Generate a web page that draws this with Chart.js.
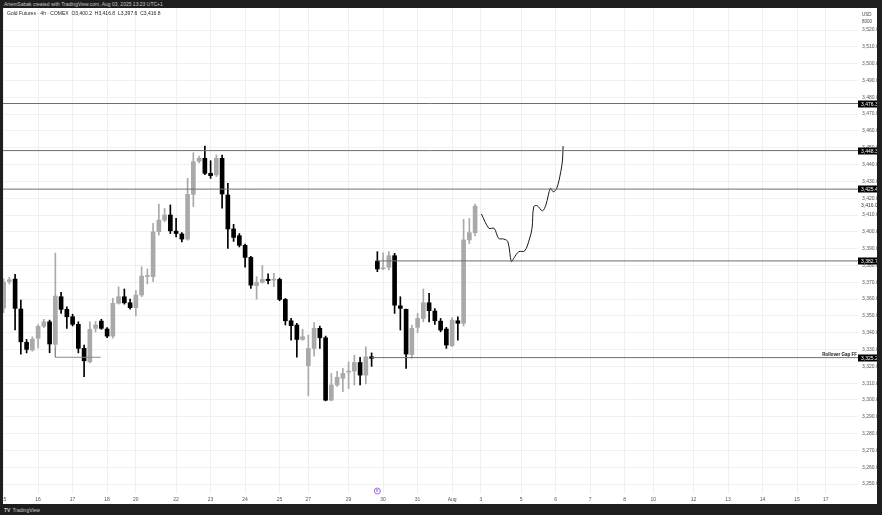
<!DOCTYPE html>
<html>
<head>
<meta charset="utf-8">
<script src="https://cdn.jsdelivr.net/npm/chart.js@4.4.1/dist/chart.umd.min.js"></script>
<style>
  html, body { margin: 0; padding: 0; width: 882px; height: 515px; overflow: hidden; background: #1e1e1e; font-family: "Liberation Sans", Arial, sans-serif; }
  #panel { position: absolute; left: 3px; top: 8px; width: 874px; height: 496px; background: #ffffff; }
  #chart { position: absolute; left: 0; top: 0; }
  #credit { position: absolute; left: 4px; top: 1px; font-size: 5px; color: #c8c8c8; white-space: nowrap; }
  #title { position: absolute; left: 4px; top: 2px; font-size: 5px; color: #222; white-space: nowrap; }
  #unit { position: absolute; left: 859px; top: 3px; font-size: 4.5px; color: #444; line-height: 7px; }
  #brand { position: absolute; left: 4px; top: 507px; font-size: 5px; color: #c8c8c8; white-space: nowrap; }
  #brand b { font-size: 5px; margin-right: 2px; }
</style>
</head>
<body>
<div id="credit">ArtemSabak created with TradingView.com, Aug 03, 2025 13:23 UTC+1</div>
<div id="panel">
  <canvas id="chart" width="874" height="496"></canvas>
  <div id="title">Gold Futures · 4h · COMEX &nbsp;O3,400.2 &nbsp;H3,416.8 &nbsp;L3,397.6 &nbsp;C3,416.8</div>
  <div id="unit">USD<br>8000</div>
</div>
<div id="brand"><b>TV</b>TradingView</div>
<script>
// 4h candles, index 0 = first bar on Jul 15
const opens  = [3354.7,3370.5,3371.9,3354.1,3334.3,3329.7,3336.7,3343.9,3346.5,3333.1,
                3361.4,3353.9,3349.5,3345.0,3330.7,3322.7,3342.6,3346.9,3342.2,3338.0,
                3357.5,3361.4,3357.8,3354.9,3362.4,3373.5,3373.3,3400.0,3407.0,3410.0,
                3400.4,3398.7,3395.7,3422.3,3442.0,3443.7,3434.8,3433.8,3443.7,3421.9,
                3401.7,3397.7,3392.0,3384.8,3368.0,3370.0,3371.8,3371.3,3371.7,3359.8,
                3347.1,3344.6,3336.0,3320.4,3330.7,3342.6,3337.0,3299.9,3308.9,3312.9,
                3316.6,3317.2,3322.3,3314.8,3325.7,3382.6,3378.0,3378.9,3385.8,3356.0,
                3353.9,3327.0,3343.2,3348.5,3357.8,3352.9,3346.9,3342.2,3332.3,3347.1,
                3345.6,3395.2,3399.5];
const highs  = [3372.0,3373.0,3374.7,3359.4,3336.0,3337.6,3344.9,3348.0,3347.5,3387.4,
                3364.0,3355.4,3351.0,3346.5,3332.7,3346.5,3346.7,3348.0,3343.0,3360.4,
                3367.3,3366.0,3360.0,3365.0,3379.2,3378.0,3405.0,3416.5,3414.0,3416.0,
                3408.0,3399.5,3431.8,3447.0,3445.0,3451.0,3442.3,3445.7,3445.7,3428.8,
                3404.5,3399.0,3392.7,3385.5,3373.3,3380.0,3375.0,3375.3,3372.5,3360.4,
                3348.5,3345.6,3342.0,3338.6,3346.0,3344.0,3338.0,3315.8,3317.0,3318.8,
                3322.7,3326.7,3325.4,3331.6,3328.0,3388.2,3387.5,3388.2,3387.2,3361.4,
                3354.0,3344.6,3351.5,3366.0,3363.4,3354.4,3348.5,3343.2,3349.0,3349.5,
                3407.4,3408.0,3416.5];
const lows   = [3352.0,3369.0,3341.6,3327.3,3328.0,3329.0,3330.9,3343.0,3328.1,3331.0,
                3351.5,3342.6,3344.0,3328.0,3313.8,3322.0,3340.5,3342.0,3337.0,3336.7,
                3357.0,3357.0,3354.0,3350.0,3361.4,3369.0,3370.3,3398.0,3406.0,3399.0,
                3397.0,3394.0,3395.0,3415.0,3441.0,3434.0,3431.8,3432.8,3414.0,3390.2,
                3394.3,3391.0,3379.0,3366.3,3360.0,3369.5,3369.0,3367.4,3359.0,3344.6,
                3335.6,3325.4,3335.5,3302.5,3326.0,3330.7,3299.5,3299.5,3308.0,3304.9,
                3306.8,3308.9,3309.0,3309.5,3320.0,3376.3,3377.5,3377.3,3351.5,3341.6,
                3318.8,3324.8,3340.0,3346.5,3346.5,3345.0,3340.6,3330.7,3331.7,3335.6,
                3344.0,3393.0,3397.5];
const closes = [3370.1,3371.5,3354.5,3334.6,3330.1,3336.2,3343.8,3346.5,3333.3,3361.8,
                3353.9,3349.5,3345.0,3330.7,3323.3,3342.0,3344.6,3342.6,3338.0,3357.5,
                3361.4,3357.8,3354.9,3362.4,3373.7,3373.9,3400.0,3407.0,3410.0,3400.6,
                3399.0,3395.7,3422.3,3441.7,3443.7,3434.8,3433.4,3443.7,3422.5,3401.7,
                3396.7,3392.0,3384.8,3368.3,3370.0,3371.7,3371.0,3371.7,3359.8,3347.1,
                3344.2,3336.0,3337.6,3330.7,3342.6,3337.0,3299.9,3308.9,3313.5,3315.8,
                3317.2,3322.3,3314.8,3325.7,3324.8,3377.9,3378.6,3385.8,3356.4,3354.5,
                3327.3,3342.6,3348.5,3357.8,3353.1,3347.1,3341.6,3332.7,3347.5,3345.6,
                3395.2,3399.5,3415.3];

// hand-drawn projection path (bar index, price)
const pathIdx   = [83.1,84.4,85.3,86.1,87.0,87.7,88.3,88.7,89.6,90.6,91.4,91.9,92.2,92.8,93.7,94.3,95.1,95.6,96.2,96.9,97.2,97.3];
const pathPrice = [3410.6,3402.1,3402.1,3396.1,3395.7,3394.1,3382.2,3384.2,3388.2,3388.6,3395.1,3402.1,3414.9,3415.5,3412.5,3415.9,3425.9,3423.8,3425.9,3435.7,3442.7,3451.0];

// horizontal levels
const levelPrices = [3476.3, 3448.3, 3425.4, 3382.7, 3325.2];
const levelStarts = [null, null, null, 65, 64];
const lastPrice = 3416.0;

// date axis
const dayTicks  = [0,6,12,18,23,30,36,42,48,53,60,66,72,78,83,90,96,102,108,113,120,126,132,138,143];
const dayLabels = ["15","16","17","18","20","22","23","24","25","27","29","30","31","Aug","3","5","6","7","8","10","12","13","14","15","17"];

const X_MIN = -0.104, X_MAX = 148.59;
const Y_MIN = 3244.1, Y_MAX = 3533.1;
const UP = "#a9a9a9", DOWN = "#000000";

const bodies = [], wicks = [], colors = [];
for (let i = 0; i < opens.length; i++) {
  bodies.push({ x: i, y: [opens[i], closes[i]] });
  wicks.push({ x: i, y: [lows[i], highs[i]] });
  colors.push(closes[i] >= opens[i] ? UP : DOWN);
}

const levelSets = levelPrices.map(function (p, k) {
  const start = levelStarts[k] === null ? X_MIN : levelStarts[k];
  return {
    type: "line",
    data: [{ x: start, y: p }, { x: X_MAX, y: p }],
    borderColor: "#6e6e6e",
    borderWidth: 1,
    pointRadius: 0,
    order: 0
  };
});

const pathSet = {
  type: "line",
  data: pathIdx.map(function (x, i) { return { x: x, y: pathPrice[i] }; }),
  borderColor: "#1a1a1a",
  borderWidth: 1,
  pointRadius: 0,
  tension: 0.35,
  order: 0
};

// small drawn marker near bar 9
const markSet = {
  type: "line",
  data: [{ x: 9, y: 3331 }, { x: 9, y: 3325.4 }, { x: 16.9, y: 3325.4 }],
  borderColor: "#8a8a8a",
  borderWidth: 1,
  pointRadius: 0,
  order: 0
};

const fmt = function (v) {
  return v.toLocaleString("en-US", { minimumFractionDigits: 1, maximumFractionDigits: 1 });
};

const overlay = {
  id: "overlay",
  afterDatasetsDraw(chart) {
    const ctx = chart.ctx;
    const ys = chart.scales.y, xs = chart.scales.x;
    const area = chart.chartArea;
    ctx.save();
    ctx.font = "5px 'Liberation Sans', Arial, sans-serif";
    ctx.textBaseline = "middle";
    // price tags for levels
    levelPrices.forEach(function (p) {
      const y = Math.round(ys.getPixelForValue(p));
      ctx.fillStyle = "#000";
      ctx.fillRect(area.right, y - 3.5, 19, 7);
      ctx.fillStyle = "#fff";
      ctx.textAlign = "left";
      ctx.fillText(fmt(p), area.right + 3, y + 0.5);
    });
    // last price
    const ly = ys.getPixelForValue(lastPrice);
    ctx.fillStyle = "#fff";
    ctx.fillRect(area.right + 1, ly - 3, 18, 6);
    ctx.fillStyle = "#333";
    ctx.fillText(fmt(lastPrice), area.right + 3, ly + 0.5);
    // rollover label
    const ry = ys.getPixelForValue(levelPrices[4]);
    ctx.font = "bold 4.5px 'Liberation Sans', Arial, sans-serif";
    ctx.fillStyle = "#111";
    ctx.textAlign = "right";
    ctx.textBaseline = "bottom";
    ctx.fillText("Rollover Gap FF", area.right - 1, ry - 1);
    // event marker
    const mx = xs.getPixelForValue(65);
    const my = area.bottom - 3;
    ctx.beginPath();
    ctx.arc(mx, my, 3, 0, Math.PI * 2);
    ctx.fillStyle = "#fff";
    ctx.fill();
    ctx.strokeStyle = "#9c6ade";
    ctx.lineWidth = 1;
    ctx.stroke();
    ctx.fillStyle = "#9c6ade";
    ctx.font = "bold 3.5px 'Liberation Sans', Arial, sans-serif";
    ctx.textAlign = "center";
    ctx.textBaseline = "middle";
    ctx.fillText("R", mx, my + 0.3);
    ctx.restore();
  }
};

new Chart(document.getElementById("chart"), {
  type: "bar",
  data: {
    datasets: [
      ...levelSets,
      pathSet,
      markSet,
      { data: bodies, backgroundColor: colors, barThickness: 4, grouped: false, minBarLength: 1, order: 1 },
      { data: wicks, backgroundColor: colors, barThickness: 1, grouped: false, order: 2 }
    ]
  },
  options: {
    responsive: false,
    animation: false,
    devicePixelRatio: 1,
    layout: { padding: 0 },
    plugins: { legend: { display: false }, tooltip: { enabled: false } },
    scales: {
      x: {
        type: "linear",
        offset: false,
        min: X_MIN,
        max: X_MAX,
        afterBuildTicks: function (scale) {
          scale.ticks = dayTicks.map(function (v) { return { value: v }; });
        },
        afterFit: function (scale) {
          scale.height = 10;
          scale.paddingLeft = 0;
          scale.paddingRight = 0;
        },
        ticks: {
          autoSkip: false,
          maxRotation: 0,
          padding: 3,
          color: "#555",
          font: { size: 5, family: "'Liberation Sans', Arial, sans-serif" },
          callback: function (v) {
            const k = dayTicks.indexOf(v);
            return k >= 0 ? dayLabels[k] : "";
          }
        },
        grid: { color: "#f0f0f0", drawTicks: false, offset: false },
        border: { display: false }
      },
      y: {
        position: "right",
        min: Y_MIN,
        max: Y_MAX,
        afterBuildTicks: function (scale) {
          const t = [];
          for (let v = 3250; v <= 3520; v += 10) t.push({ value: v });
          scale.ticks = t;
        },
        afterFit: function (scale) {
          scale.width = 19;
          scale.paddingTop = 0;
          scale.paddingBottom = 0;
        },
        ticks: {
          padding: 4,
          color: "#555",
          font: { size: 5, family: "'Liberation Sans', Arial, sans-serif" },
          callback: function (v) { return fmt(v); }
        },
        grid: { color: "#f0f0f0", drawTicks: false },
        border: { display: false }
      }
    }
  },
  plugins: [overlay]
});
</script>
</body>
</html>
